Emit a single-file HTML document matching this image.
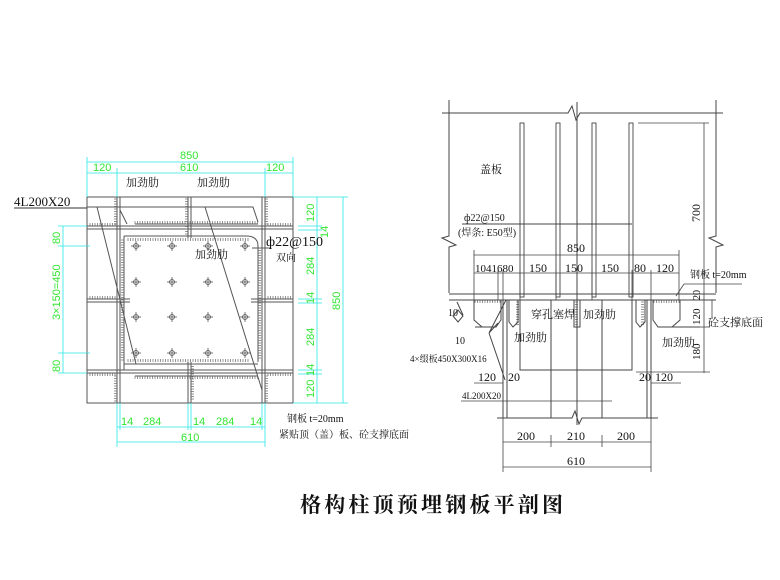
<!DOCTYPE html>
<html><head><meta charset="utf-8"><style>
html,body{margin:0;padding:0;background:#fff;}
svg{display:block;}
.g{fill:#33e633;font-family:"Liberation Sans","Noto Sans CJK SC",sans-serif;font-size:11px;}
.k{fill:#111;font-family:"Liberation Serif","Noto Serif CJK SC",serif;}
</style></head><body>
<svg id="s" width="780" height="580" viewBox="0 0 780 580" xmlns="http://www.w3.org/2000/svg">
<g stroke="#555" stroke-width="1" fill="none">
<rect x="87" y="197" width="206" height="206"/>
<line x1="87" y1="226" x2="293" y2="226"/><line x1="87" y1="229" x2="293" y2="229"/>
<line x1="87" y1="370" x2="293" y2="370"/><line x1="87" y1="373" x2="293" y2="373"/>
<line x1="117" y1="197" x2="117" y2="403"/><line x1="120" y1="197" x2="120" y2="403"/>
<line x1="262" y1="197" x2="262" y2="403"/><line x1="265" y1="197" x2="265" y2="403"/>
<line x1="188" y1="197" x2="188" y2="238"/><line x1="191" y1="197" x2="191" y2="238"/>
<line x1="188" y1="362" x2="188" y2="403"/><line x1="191" y1="362" x2="191" y2="403"/>
<line x1="87" y1="299" x2="130" y2="299"/><line x1="87" y1="302" x2="130" y2="302"/>
<line x1="251" y1="299" x2="293" y2="299"/><line x1="251" y1="302" x2="293" y2="302"/>
<path d="M124 236 L124 370 M124 236 L246 236 Q258 236 258 246 L258 362 M124 364 L258 364"/>
<path d="M135 224 L258 224 M135 376 L258 376"/>
<path d="M87 207 L253 207 L258 222 M97 207 L136 364 M205 207 L262 390 M120 210 L127 224"/>
<line x1="252" y1="248" x2="270" y2="248"/>
</g>
<g id="ticks" stroke="#666" stroke-width="0.7"></g>
<g id="bolts" stroke="#555" stroke-width="0.8" fill="none"></g>
<g stroke="#29e6e6" stroke-width="0.8" fill="none">
<line x1="87" y1="162" x2="293" y2="162"/><line x1="87" y1="173" x2="293" y2="173"/>
<line x1="87" y1="157" x2="87" y2="197"/><line x1="117" y1="168" x2="117" y2="197"/><line x1="265" y1="168" x2="265" y2="197"/><line x1="293" y1="157" x2="293" y2="197"/>
<line x1="317" y1="197" x2="317" y2="403"/><line x1="343" y1="197" x2="343" y2="403"/>
<line x1="293" y1="197" x2="348" y2="197"/><line x1="293" y1="403" x2="348" y2="403"/>
<line x1="298" y1="226" x2="322" y2="226"/><line x1="298" y1="230" x2="322" y2="230"/><line x1="298" y1="299" x2="322" y2="299"/><line x1="298" y1="303" x2="322" y2="303"/><line x1="298" y1="370" x2="322" y2="370"/><line x1="298" y1="374" x2="322" y2="374"/>
<line x1="63" y1="226" x2="63" y2="373"/>
<line x1="58" y1="226" x2="87" y2="226"/><line x1="58" y1="246" x2="90" y2="246"/><line x1="58" y1="353" x2="90" y2="353"/><line x1="58" y1="373" x2="87" y2="373"/>
<line x1="117" y1="427" x2="265" y2="427"/><line x1="117" y1="442" x2="265" y2="442"/>
<line x1="117" y1="403" x2="117" y2="447"/><line x1="120" y1="403" x2="120" y2="430"/><line x1="188" y1="403" x2="188" y2="430"/><line x1="191" y1="403" x2="191" y2="430"/><line x1="262" y1="403" x2="262" y2="430"/><line x1="265" y1="403" x2="265" y2="447"/>
</g>
<g class="g">
<text x="180" y="159">850</text>
<text x="93" y="171">120</text><text x="180" y="171">610</text><text x="266" y="171">120</text>
<text x="121" y="425">14</text><text x="143" y="425">284</text><text x="193" y="425">14</text><text x="216" y="425">284</text><text x="250" y="425">14</text>
<text x="181" y="441">610</text>
<g transform="rotate(-90)">
<text x="-222" y="314">120</text><text x="-238" y="328">14</text><text x="-275" y="314">284</text><text x="-304" y="314">14</text><text x="-346" y="314">284</text><text x="-376" y="314">14</text><text x="-398" y="314">120</text>
<text x="-310" y="340">850</text>
<text x="-244" y="60">80</text><text x="-320" y="60">3×150=450</text><text x="-372" y="60">80</text>
</g></g>
<g class="k">
<text x="14" y="206" font-size="13">4L200X20</text>
<line x1="14" y1="208" x2="87" y2="208" stroke="#333"/>
<text x="126" y="186" font-size="11">加劲肋</text><text x="197" y="186" font-size="11">加劲肋</text>
<text x="195" y="258" font-size="11">加劲肋</text>
<text x="266" y="246" font-size="14">ф22@150</text>
<text x="276" y="261" font-size="10">双向</text>
<text x="287" y="422" font-size="10">钢板 t=20mm</text>
<text x="279" y="438" font-size="10">紧贴顶（盖）板、砼支撑底面</text>
</g>

<g stroke="#444" stroke-width="1" fill="none">
<path d="M442 113 L568 113 L572 106 L576 120 L580 113 L723 113"/>
<path d="M449 100 L449 236 L442 238 L456 245 L449 247 L449 293"/>
<path d="M716 100 L716 236 L709 238 L723 245 L716 247 L716 293"/>
<line x1="449" y1="294" x2="716" y2="294"/><line x1="449" y1="300" x2="716" y2="300"/>
<line x1="577" y1="102" x2="577" y2="425"/>
<g stroke-width="0.9">
<rect x="520" y="123" width="4" height="174"/><rect x="556" y="123" width="4" height="174"/><rect x="592" y="123" width="4" height="174"/><rect x="629" y="123" width="4" height="174"/>
</g>
<path d="M520 300 L520 370 L632 370 L632 300"/>
<line x1="551" y1="300" x2="551" y2="418"/><line x1="602" y1="300" x2="602" y2="418"/>
<line x1="503" y1="300" x2="503" y2="418"/><line x1="507" y1="300" x2="507" y2="418"/>
<line x1="647" y1="300" x2="647" y2="418"/><line x1="651" y1="300" x2="651" y2="418"/>
<path d="M497 418 L572 418 L575 411 L579 424 L582 418 L658 418"/>
<path d="M474 300 L474 320 L482 327 L496 327 L501 320 L501 300"/>
<path d="M509 300 L509 322 L513 327 L518 322 L518 300"/>
<path d="M636 300 L636 322 L640 327 L645 322 L645 300"/>
<path d="M653 300 L653 320 L658 327 L672 327 L680 320 L680 300"/>
<path d="M475 327 L490 327 M665 327 L700 327"/>
<rect x="574" y="300" width="6" height="27"/>
<path d="M457 302 L463 315 M458 310 L453 316 L458 322 L463 316 Z"/>
<path d="M489 333 L501 368 L505 380 M489 333 L506 300 M489 333 L498 323"/>
<line x1="462" y1="224" x2="632" y2="224"/>
</g>
<g stroke="#444" stroke-width="0.8" fill="none">
<line x1="474" y1="255" x2="679" y2="255"/><line x1="474" y1="250" x2="474" y2="300"/><line x1="679" y1="250" x2="679" y2="300"/>
<line x1="474" y1="273" x2="679" y2="273"/>
<line x1="498" y1="270" x2="498" y2="300"/><line x1="503" y1="270" x2="503" y2="300"/><line x1="520" y1="270" x2="520" y2="300"/><line x1="556" y1="270" x2="556" y2="300"/><line x1="592" y1="270" x2="592" y2="300"/><line x1="632" y1="270" x2="632" y2="300"/><line x1="651" y1="270" x2="651" y2="300"/>
<line x1="638" y1="123" x2="709" y2="123"/><line x1="704" y1="123" x2="704" y2="373"/>
<line x1="700" y1="294" x2="710" y2="294"/><line x1="700" y1="300" x2="710" y2="300"/><line x1="700" y1="327" x2="710" y2="327"/><line x1="636" y1="372" x2="710" y2="372"/>
<line x1="474" y1="383" x2="503" y2="383"/><line x1="651" y1="383" x2="681" y2="383"/>
<line x1="503" y1="442" x2="651" y2="442"/><line x1="503" y1="467" x2="651" y2="467"/>
<line x1="503" y1="418" x2="503" y2="472"/><line x1="551" y1="435" x2="551" y2="447"/><line x1="602" y1="435" x2="602" y2="447"/><line x1="651" y1="418" x2="651" y2="472"/>
<line x1="461" y1="401" x2="612" y2="401"/>
<line x1="684" y1="284" x2="742" y2="284"/><line x1="684" y1="284" x2="676" y2="296"/>
<line x1="712" y1="300" x2="712" y2="318"/>
</g>
<g class="k" font-size="11">
<text x="480" y="173">盖板</text>
<text x="464" y="221" font-size="10">ф22@150</text><text x="458" y="236" font-size="10">(焊条: E50型)</text>
<text x="567" y="252" font-size="12">850</text>
<text x="475" y="272" font-size="11">1041680</text><text x="529" y="272" font-size="12">150</text><text x="565" y="272" font-size="12">150</text><text x="601" y="272" font-size="12">150</text><text x="634" y="272" font-size="12">80</text><text x="656" y="272" font-size="12">120</text>
<text x="690" y="278" font-size="10">钢板 t=20mm</text>
<text x="531" y="318" font-size="11">穿孔塞焊</text><text x="583" y="318" font-size="11">加劲肋</text>
<text x="514" y="341" font-size="11">加劲肋</text><text x="662" y="346" font-size="11">加劲肋</text>
<text x="708" y="326" font-size="11">砼支撑底面</text>
<text x="448" y="316" font-size="10">10</text><text x="455" y="344" font-size="10">10</text>
<text x="410" y="362" font-size="9">4×缀板450X300X16</text>
<text x="478" y="381" font-size="12">120</text><text x="508" y="381" font-size="12">20</text>
<text x="639" y="381" font-size="12">20</text><text x="655" y="381" font-size="12">120</text>
<text x="462" y="399" font-size="9">4L200X20</text>
<text x="517" y="440" font-size="12">200</text><text x="567" y="440" font-size="12">210</text><text x="617" y="440" font-size="12">200</text>
<text x="567" y="465" font-size="12">610</text>
<g transform="rotate(-90)"><text x="-222" y="700" font-size="12">700</text><text x="-300" y="700" font-size="10">20</text><text x="-325" y="700" font-size="11">120</text><text x="-360" y="700" font-size="11">180</text></g>
<text x="300" y="512" font-size="21" font-weight="bold" letter-spacing="3.2">格构柱顶预埋钢板平剖图</text>
</g>
</svg>
<script>
var ns="http://www.w3.org/2000/svg";
function L(g,a,b,c,d){var l=document.createElementNS(ns,"line");l.setAttribute("x1",a);l.setAttribute("y1",b);l.setAttribute("x2",c);l.setAttribute("y2",d);g.appendChild(l);}
var t=document.getElementById("ticks");
function hT(x1,x2,y,dy){for(var x=x1;x<=x2;x+=2.5)L(t,x,y,x,y+dy);}
function vT(y1,y2,x,dx){for(var y=y1;y<=y2;y+=2.5)L(t,x,y,x+dx,y);}
hT(90,115,226,-3);hT(268,291,226,-3);hT(90,115,373,3);hT(268,291,373,3);
hT(90,115,299,-3);hT(268,291,299,-3);
hT(135,258,224,-3);hT(128,250,238,3);hT(135,258,376,3);hT(128,250,362,-3);
vT(199,224,117,-3);vT(199,224,265,3);vT(376,401,117,-3);vT(376,401,265,3);
vT(199,236,188,-3);vT(364,401,191,3);
vT(240,360,124,-3);vT(248,360,258,3);
hT(475,500,300,3);hT(654,679,300,3);vT(302,325,516,3);vT(302,325,641,3);vT(302,325,575,3);
var b=document.getElementById("bolts");
[136,172,208,245].forEach(function(x){[246,282,317,353].forEach(function(y){
var c=document.createElementNS(ns,"circle");c.setAttribute("cx",x);c.setAttribute("cy",y);c.setAttribute("r",2.5);b.appendChild(c);
L(b,x-5,y,x+5,y);L(b,x,y-5,x,y+5);});});
</script>
</body></html>
